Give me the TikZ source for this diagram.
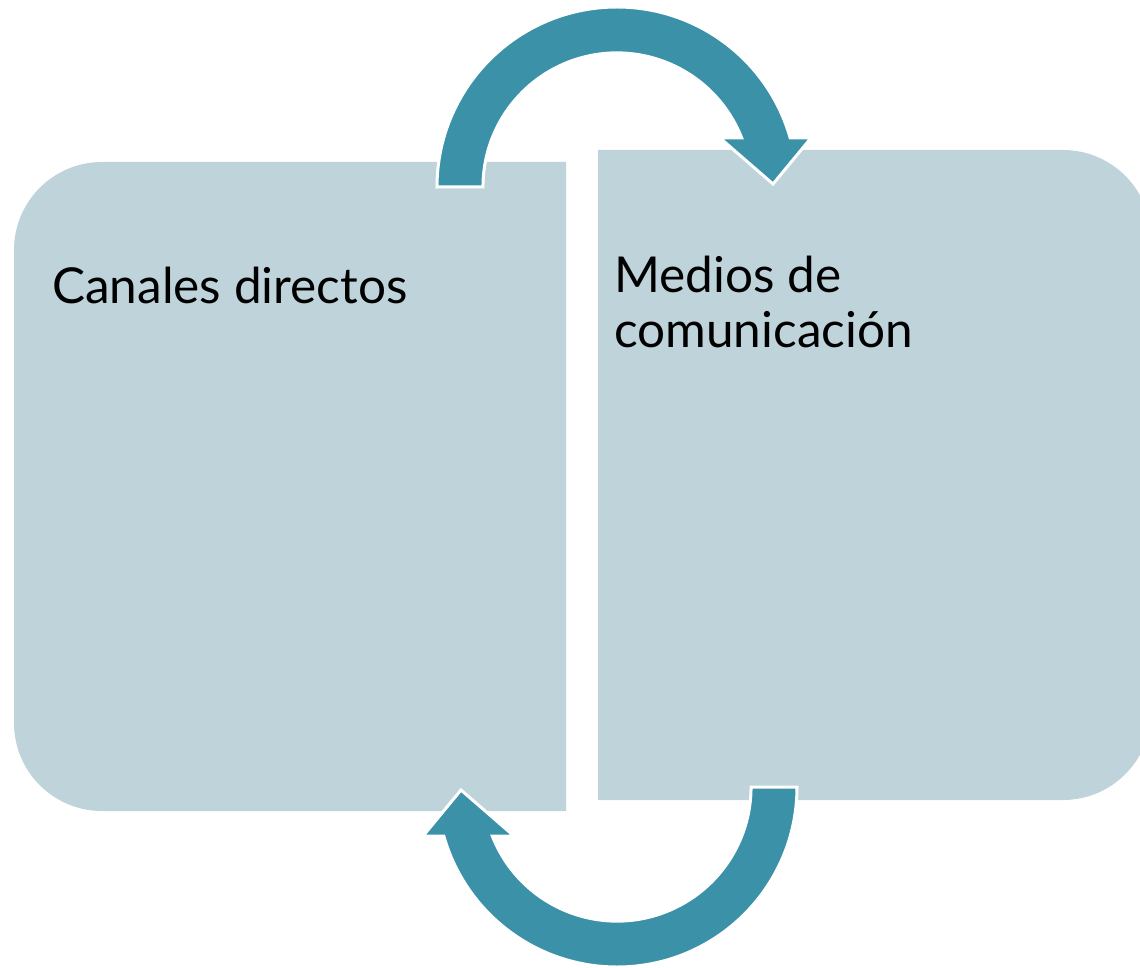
\documentclass[tikz,border=0pt]{standalone}
\usepackage{fontspec}
\setmainfont{Lato}
\definecolor{boxfill}{RGB}{191,211,219}
\definecolor{teal}{RGB}{58,145,168}
\begin{document}
\begin{tikzpicture}[x=1pt,y=1pt,
  panel/.style={fill=boxfill,draw=none},
  cyclearrow/.style={fill=teal,draw=white,line width=3pt,line join=miter},
  label/.style={anchor=base west,inner sep=0pt,font=\fontsize{49.5}{55}\selectfont,text=black,align=left}]
\useasboundingbox (0,0) rectangle (1140,-968);
\clip (0,0) rectangle (1140,-968);
% left panel
\path[panel] (566,-162) -- (102,-162) arc[start angle=90,end angle=180,radius=88]
  -- (14,-723) arc[start angle=180,end angle=270,radius=88] -- (566,-811) -- cycle;
% right panel
\path[panel] (598,-150) -- (1063,-150) arc[start angle=90,end angle=0,radius=88]
  -- (1151,-712) arc[start angle=0,end angle=-90,radius=88] -- (598,-800) -- cycle;
% top circular arrow
\path[cyclearrow] (437,-187) arc[start angle=180,end angle=15.8,radius=180]
  -- (811,-138) -- (773,-184) -- (720,-138) -- (741.7,-138)
  arc[start angle=21.4,end angle=180,radius=134] -- cycle;
% bottom circular arrow
\path[cyclearrow,rotate around={180:(617,-487)}] (437,-187) arc[start angle=180,end angle=15.8,radius=180]
  -- (811,-138) -- (773,-184) -- (720,-138) -- (741.7,-138)
  arc[start angle=21.4,end angle=180,radius=134] -- cycle;
% labels
\node[label] (canales) at (52,-304) {Canales directos};
\node[label] (medios) at (614,-292) {Medios de};
\node[label] (comunicacion) at (614,-347) {comunicación};
\end{tikzpicture}
\end{document}
